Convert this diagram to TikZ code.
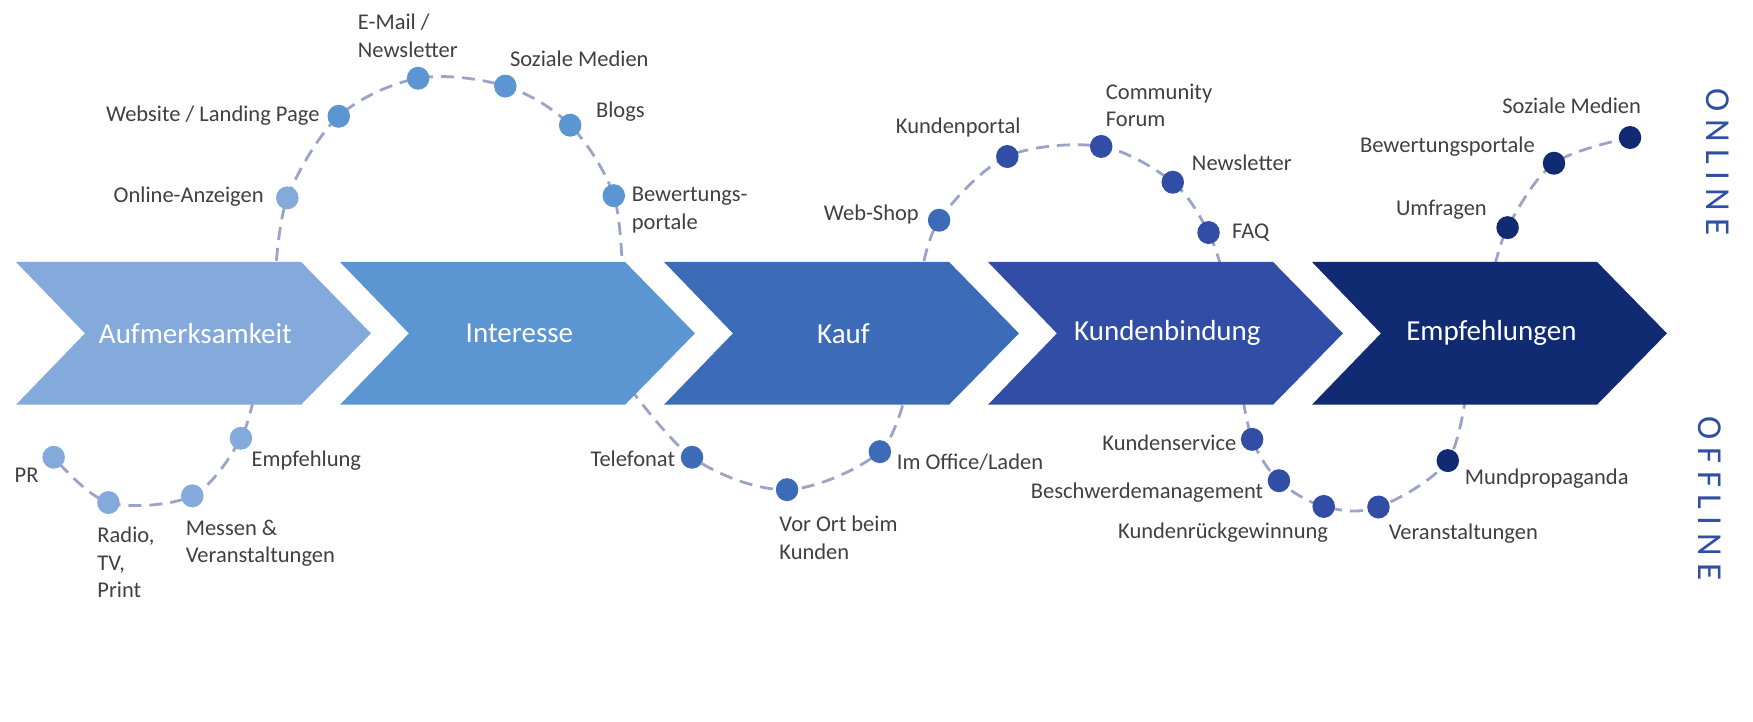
\documentclass[tikz,border=0pt]{standalone}
\usepackage{fontspec}
\setmainfont{Carlito}
\usetikzlibrary{shapes.geometric}
\definecolor{cA}{HTML}{83AADB}
\definecolor{cB}{HTML}{5B96D3}
\definecolor{cC}{HTML}{3C6BB7}
\definecolor{cD}{HTML}{314DA5}
\definecolor{cE}{HTML}{112B73}
\definecolor{dashc}{HTML}{9BA3C7}
\definecolor{txt}{HTML}{404040}
\definecolor{side}{HTML}{2F4FA3}
\pgfdeclarelayer{background}
\pgfsetlayers{background,main}
\begin{document}
\begin{tikzpicture}[x=1.118pt,y=-1.118pt,
  lbl/.style={inner sep=0pt, text=txt, font=\fontsize{22.5}{27.4}\selectfont, align=left},
  dot/.style={ellipse, draw=none, fill=#1, minimum width=22.5pt, minimum height=23pt, inner sep=0pt},
  chev/.style={fill=#1, draw=none},
  chevlbl/.style={text=white, font=\fontsize{29}{35}\selectfont, inner sep=0pt},
  dashline/.style={draw=dashc, line width=2.8pt, dash pattern=on 13pt off 8pt},
  sidelbl/.style={text=side, font=\fontsize{35}{40}\selectfont, rotate=-90, inner sep=0pt}]
\useasboundingbox (0,0) rectangle (1568,645);

% chevrons
\foreach \i/\c/\t/\n in {0/cA/Aufmerksamkeit/s1, 1/cB/Interesse/s2, 2/cC/Kauf/s3, 3/cD/Kundenbindung/s4, 4/cE/Empfehlungen/s5}{
  \pgfmathsetmacro{\L}{14.3+289.8*\i}
  \fill[chev=\c] (\L,234.3) -- (\L+255,234.3) -- (\L+317.5,298.2) -- (\L+255,362) -- (\L,362) -- (\L+61.7,298.2) -- cycle;
  \node[chevlbl] (\n) at (\L+160.5,298.2) {\t};
}

% dots
\node[dot=cA] (a1) at (257,177) {};
\node[dot=cA] (a2) at (48,409) {};
\node[dot=cA] (a3) at (97,449.5) {};
\node[dot=cA] (a4) at (172,443.5) {};
\node[dot=cA] (a5) at (215.5,392) {};
\node[dot=cB] (b1) at (303,104) {};
\node[dot=cB] (b2) at (374,70) {};
\node[dot=cB] (b3) at (452,77) {};
\node[dot=cB] (b4) at (510,112) {};
\node[dot=cB] (b5) at (549,175) {};
\node[dot=cC] (k1) at (840,197) {};
\node[dot=cC] (k2) at (619,409) {};
\node[dot=cC] (k3) at (704,438) {};
\node[dot=cC] (k4) at (787,404) {};
\node[dot=cD] (r1) at (901,140) {};
\node[dot=cD] (r2) at (985,131) {};
\node[dot=cD] (r3) at (1049,163) {};
\node[dot=cD] (r4) at (1081,208) {};
\node[dot=cD] (r5) at (1120,393) {};
\node[dot=cD] (r6) at (1144,430) {};
\node[dot=cD] (r7) at (1184,453) {};
\node[dot=cD] (r8) at (1233,453.5) {};
\node[dot=cE] (e1) at (1295,412) {};
\node[dot=cE] (e2) at (1348.5,203.6) {};
\node[dot=cE] (e3) at (1390,146) {};
\node[dot=cE] (e4) at (1458,123) {};

% hidden curve ends (behind chevrons)
\coordinate (c1s) at (246,252);
\coordinate (c1e) at (557,252);
\coordinate (c2s) at (230,340);
\coordinate (c3s) at (552,332);
\coordinate (c3e) at (813,340);
\coordinate (c4s) at (823,252);
\coordinate (c4e) at (1096,252);
\coordinate (c5s) at (1109,340);
\coordinate (c5e) at (1313,340);
\coordinate (c6s) at (1333,255);

\begin{pgfonlayer}{background}
\draw[dashline] plot[smooth, tension=0.55] coordinates {(c1s) (a1.center) (b1.center) (b2.center) (b3.center) (b4.center) (b5.center) (c1e)};
\draw[dashline] plot[smooth, tension=0.55] coordinates {(c2s) (a5.center) (a4.center) (a3.center) (a2.center)};
\draw[dashline] plot[smooth, tension=0.55] coordinates {(c3s) (k2.center) (k3.center) (k4.center) (c3e)};
\draw[dashline] plot[smooth, tension=0.55] coordinates {(c4s) (k1.center) (r1.center) (r2.center) (r3.center) (r4.center) (c4e)};
\draw[dashline] plot[smooth, tension=0.55] coordinates {(c5s) (r5.center) (r6.center) (r7.center) (r8.center) (e1.center) (c5e)};
\draw[dashline] plot[smooth, tension=0.55] coordinates {(c6s) (e2.center) (e3.center) (e4.center)};
\end{pgfonlayer}

% labels
\node[lbl, anchor=east] (la1) at (236,176) {Online-Anzeigen};
\node[lbl, anchor=west] (la2) at (13,425) {PR};
\node[lbl, anchor=west] (la3) at (87,503) {Radio,\\TV,\\Print};
\node[lbl, anchor=west] (la4) at (166,486) {Messen \&\\Veranstaltungen};
\node[lbl, anchor=west] (la5) at (225,412) {Empfehlung};
\node[lbl, anchor=east] (lb1) at (286,103) {Website / Landing Page};
\node[lbl, anchor=west] (lb2) at (320,32) {E-Mail /\\Newsletter};
\node[lbl, anchor=west] (lb3) at (456,53) {Soziale Medien};
\node[lbl, anchor=west] (lb4) at (533,100) {Blogs};
\node[lbl, anchor=west] (lb5) at (565,188) {Bewertungs-\\portale};
\node[lbl, anchor=east] (lk1) at (822,192) {Web-Shop};
\node[lbl, anchor=east] (lk2) at (604,410) {Telefonat};
\node[lbl, anchor=west] (lk3) at (697,481) {Vor Ort beim\\Kunden};
\node[lbl, anchor=west] (lk4) at (802,413) {Im Office/Laden};
\node[lbl, anchor=east] (lr1) at (913,114) {Kundenportal};
\node[lbl, anchor=west] (lr2) at (989,94) {Community\\Forum};
\node[lbl, anchor=west] (lr3) at (1066,146) {Newsletter};
\node[lbl, anchor=west] (lr4) at (1102,208) {FAQ};
\node[lbl, anchor=east] (lr5) at (1106,396) {Kundenservice};
\node[lbl, anchor=east] (lr6) at (1130,441) {Beschwerdemanagement};
\node[lbl, anchor=east] (lr7) at (1188,476) {Kundenrückgewinnung};
\node[lbl, anchor=west] (lr8) at (1242,477) {Veranstaltungen};
\node[lbl, anchor=west] (le1) at (1310,428) {Mundpropaganda};
\node[lbl, anchor=east] (le2) at (1330,188) {Umfragen};
\node[lbl, anchor=east] (le3) at (1373,131) {Bewertungsportale};
\node[lbl, anchor=east] (le4) at (1468,95) {Soziale Medien};

% side labels
\node[sidelbl] (online) at (1536,145) {O\hspace{7.5pt}N\hspace{7.5pt}L\hspace{7.5pt}I\hspace{7.5pt}N\hspace{7.5pt}E};
\node[sidelbl] (offline) at (1529,446) {O\hspace{7.5pt}F\hspace{7.5pt}F\hspace{7.5pt}L\hspace{7.5pt}I\hspace{7.5pt}N\hspace{7.5pt}E};
\end{tikzpicture}
\end{document}
